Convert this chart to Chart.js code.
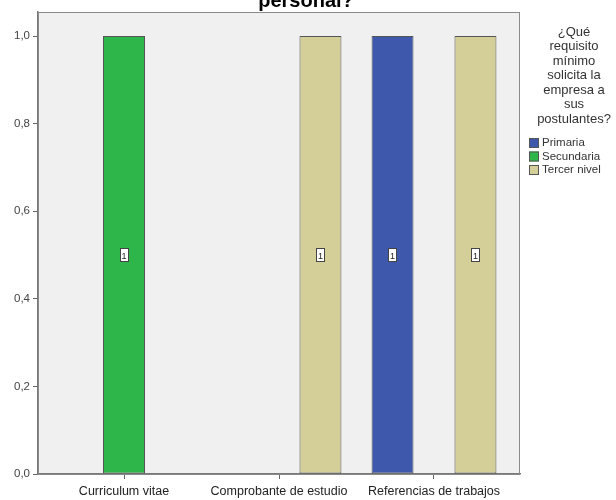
<!DOCTYPE html>
<html>
<head>
<meta charset="utf-8">
<script src="https://cdn.jsdelivr.net/npm/chart.js@4"></script>
<style>
  html, body { margin: 0; padding: 0; background: #fff; }
  #wrap { width: 616px; height: 500px; }
</style>
</head>
<body>
<div id="wrap"><canvas id="chart" width="616" height="500"></canvas></div>
<script>
// data
const categories = ['Curriculum vitae', 'Comprobante de estudio', 'Referencias de trabajos'];
const seriesNames = ['Primaria', 'Secundaria', 'Tercer nivel'];
const primaria = [null, null, 1];
const secundaria = [1, 0, null];
const tercerNivel = [null, 1, 1];
const seriesColors = ['#3e58ac', '#2eb64b', '#d4cf98'];
const titleText = 'personal?';
const legendTitle = ['¿Qué', 'requisito', 'mínimo', 'solicita la', 'empresa a', 'sus', 'postulantes?'];

const FONT = 'Arial, "Liberation Sans", sans-serif';

// gray plot background + frame
const framePlugin = {
    id: 'frame',
    beforeDraw(chart) {
        const { ctx, chartArea: a } = chart;
        ctx.save();
        ctx.fillStyle = '#f0f0f0';
        ctx.fillRect(a.left, a.top, a.right - a.left, a.bottom - a.top);
        ctx.restore();
    },
    afterDraw(chart) {
        const { ctx, chartArea: a } = chart;
        ctx.save();
        ctx.strokeStyle = '#8a8a8a';
        ctx.lineWidth = 1;
        ctx.strokeRect(a.left + 0.5, a.top + 0.5, a.right - a.left - 1, a.bottom - a.top);
        ctx.restore();
    }
};

// little white boxes with the count in the middle of each bar
const countLabels = {
    id: 'countLabels',
    afterDatasetsDraw(chart) {
        const { ctx } = chart;
        const yScale = chart.scales.y;
        ctx.save();
        chart.data.datasets.forEach((ds, i) => {
            const meta = chart.getDatasetMeta(i);
            meta.data.forEach((bar, j) => {
                const v = ds.data[j];
                if (!v) return;
                const y = yScale.getPixelForValue(v / 2);
                const w = 9, h = 14;
                ctx.fillStyle = '#fff';
                ctx.fillRect(Math.round(bar.x - w / 2), Math.round(y - h / 2), w, h);
                ctx.strokeStyle = '#444';
                ctx.lineWidth = 1;
                ctx.strokeRect(Math.round(bar.x - w / 2) + 0.5, Math.round(y - h / 2) + 0.5, w - 1, h - 1);
                ctx.fillStyle = '#222';
                ctx.font = '9px ' + FONT;
                ctx.textAlign = 'center';
                ctx.textBaseline = 'middle';
                ctx.fillText(String(v), bar.x, y + 1);
            });
        });
        ctx.restore();
    }
};

// cut-off title and the legend block on the right
const textPlugin = {
    id: 'texts',
    afterDraw(chart) {
        const { ctx } = chart;
        ctx.save();
        ctx.fillStyle = '#000';
        ctx.font = 'bold 20px ' + FONT;
        ctx.textAlign = 'center';
        ctx.textBaseline = 'alphabetic';
        ctx.fillText(titleText, 306, 7);

        ctx.fillStyle = '#333';
        ctx.font = '13px ' + FONT;
        ctx.textBaseline = 'middle';
        legendTitle.forEach((line, i) => {
            ctx.fillText(line, 574, 32 + i * 14.5);
        });

        ctx.textAlign = 'left';
        ctx.font = '11.5px ' + FONT;
        chart.data.datasets.forEach((ds, i) => {
            const y = 143 + i * 13.5;
            ctx.fillStyle = ds.backgroundColor;
            ctx.fillRect(529, y - 5, 10, 10);
            ctx.strokeStyle = '#555';
            ctx.lineWidth = 1;
            ctx.strokeRect(529.5, y - 4.5, 9, 9);
            ctx.fillStyle = '#333';
            ctx.fillText(ds.label, 542, y);
        });
        ctx.restore();
    }
};

const datasets = [primaria, secundaria, tercerNivel].map((values, i) => ({
    label: seriesNames[i],
    data: values,
    backgroundColor: seriesColors[i],
    borderColor: '#555',
    borderWidth: 1,
    borderSkipped: false,
    categoryPercentage: 1.07,
    barPercentage: 0.506,
    maxBarThickness: 42
}));

new Chart(document.getElementById('chart'), {
    type: 'bar',
    data: { labels: categories, datasets: datasets },
    options: {
        responsive: false,
        animation: false,
        skipNull: true,
        layout: { padding: { top: 12, right: 96, left: 0, bottom: 0 } },
        plugins: {
            legend: { display: false },
            tooltip: { enabled: false }
        },
        scales: {
            x: {
                offset: true,
                grid: { display: true, offset: false, drawOnChartArea: false, tickLength: 5, color: '#666' },
                border: { display: true, color: '#777', width: 1.5 },
                ticks: { color: '#222', font: { size: 12.5, family: FONT }, padding: 5, maxRotation: 0 },
                afterFit(s) { s.height = 26; },
                afterUpdate(s) {
                    // SPSS keeps the clusters 155px apart, centred in the frame
                    const range = (s.right - s.left) / 155;
                    s._valueRange = range;
                    s._startValue = 1 - range / 2;
                }
            },
            y: {
                min: 0,
                max: 1.055,
                grid: { display: true, drawOnChartArea: false, tickLength: 5, color: '#666' },
                border: { display: true, color: '#777', width: 1.5 },
                ticks: {
                    stepSize: 0.2,
                    includeBounds: false,
                    color: '#444',
                    font: { size: 11.5, family: FONT },
                    padding: 3,
                    callback: v => v.toFixed(1).replace('.', ',')
                },
                afterFit(s) { s.width = 38; }
            }
        }
    },
    plugins: [framePlugin, countLabels, textPlugin]
});
</script>
</body>
</html>
